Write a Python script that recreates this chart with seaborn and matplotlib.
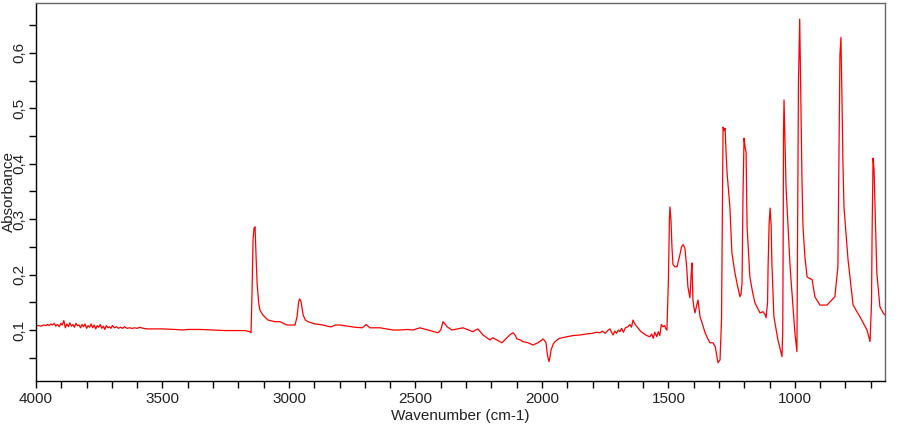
import pandas as pd
import matplotlib
matplotlib.use("Agg")
import matplotlib.pyplot as plt
from matplotlib.ticker import MultipleLocator, FuncFormatter
import seaborn as sns

# IR-spektrum, värden
wavenumber = [
    4000, 3990, 3980, 3970, 3960, 3955, 3948, 3942, 3935, 3928, 3922, 3915, 3908, 3902,
    3896, 3890, 3884, 3878, 3872, 3866, 3860, 3854, 3848, 3842, 3836, 3830, 3824, 3818,
    3812, 3806, 3800, 3794, 3788, 3782, 3776, 3770, 3764, 3758, 3752, 3746, 3740, 3734,
    3728, 3722, 3716, 3710, 3704, 3698, 3690, 3682, 3674, 3666, 3658, 3650, 3640, 3630,
    3620, 3610, 3600, 3590, 3575, 3560, 3500, 3450, 3420, 3400, 3350, 3300, 3250, 3200,
    3174, 3155, 3150, 3146, 3142, 3138, 3134, 3130, 3126, 3120, 3115, 3103, 3083, 3055,
    3035, 3008, 2976, 2968, 2962, 2958, 2952, 2944, 2935, 2925, 2897, 2866, 2840, 2830,
    2818, 2798, 2770, 2740, 2710, 2695, 2680, 2640, 2600, 2589, 2560, 2530, 2510, 2482,
    2450, 2411, 2400, 2391, 2385, 2375, 2356, 2335, 2312, 2290, 2273, 2262, 2253, 2233,
    2205, 2195, 2186, 2170, 2158, 2145, 2138, 2125, 2114, 2105, 2099, 2085, 2075, 2055,
    2035, 2016, 2000, 1996, 1988, 1984, 1980, 1976, 1972, 1968, 1964, 1955, 1948, 1935,
    1921, 1900, 1877, 1850, 1822, 1800, 1785, 1771, 1760, 1750, 1740, 1731, 1725, 1719,
    1712, 1705, 1698, 1692, 1685, 1678, 1670, 1660, 1652, 1646, 1640, 1634, 1628, 1624,
    1616, 1608, 1601, 1590, 1580, 1573, 1566, 1560, 1554, 1546, 1540, 1534, 1528, 1522,
    1515, 1510, 1506, 1500, 1496, 1494, 1490, 1486, 1482, 1474, 1466, 1455, 1448, 1442,
    1435, 1428, 1423, 1415, 1410, 1407, 1403, 1399, 1395, 1388, 1383, 1375, 1365, 1355,
    1345, 1336, 1324, 1315, 1304, 1296, 1290, 1288, 1286, 1284, 1280, 1276, 1272, 1268,
    1262, 1257, 1249, 1237, 1227, 1217, 1213, 1209, 1205, 1201, 1197, 1193, 1189, 1178,
    1168, 1158, 1138, 1126, 1118, 1114, 1108, 1106, 1102, 1098, 1094, 1091, 1083, 1067,
    1051, 1048, 1046, 1045, 1043, 1039, 1035, 1019, 1000, 992, 989, 986, 981, 976,
    972, 968, 960, 952, 942, 932, 921, 901, 873, 842, 830, 825, 822, 818,
    814, 810, 806, 790, 770, 743, 715, 703, 697, 695, 691, 687, 682, 676,
    664, 650, 644,
]
absorbance = [
    0.108, 0.108, 0.107, 0.109, 0.108, 0.110, 0.108, 0.111, 0.109, 0.112, 0.107, 0.110, 0.106, 0.112,
    0.109, 0.117, 0.104, 0.111, 0.106, 0.113, 0.107, 0.110, 0.105, 0.112, 0.108, 0.109, 0.104, 0.110,
    0.106, 0.111, 0.103, 0.108, 0.105, 0.111, 0.104, 0.109, 0.102, 0.108, 0.105, 0.110, 0.103, 0.107,
    0.101, 0.108, 0.104, 0.106, 0.103, 0.108, 0.104, 0.106, 0.103, 0.105, 0.103, 0.106, 0.103, 0.104,
    0.103, 0.104, 0.103, 0.105, 0.103, 0.102, 0.102, 0.101, 0.100, 0.101, 0.101, 0.100, 0.099, 0.099,
    0.099, 0.097, 0.095, 0.167, 0.263, 0.284, 0.286, 0.232, 0.185, 0.150, 0.136, 0.127, 0.118, 0.115,
    0.115, 0.109, 0.109, 0.124, 0.150, 0.156, 0.151, 0.127, 0.118, 0.115, 0.111, 0.109, 0.106, 0.106,
    0.109, 0.109, 0.107, 0.105, 0.104, 0.110, 0.104, 0.104, 0.101, 0.100, 0.100, 0.101, 0.100, 0.104,
    0.100, 0.095, 0.100, 0.115, 0.112, 0.106, 0.100, 0.102, 0.104, 0.100, 0.097, 0.100, 0.102, 0.091,
    0.082, 0.086, 0.084, 0.080, 0.077, 0.083, 0.086, 0.092, 0.095, 0.090, 0.084, 0.082, 0.079, 0.077,
    0.073, 0.077, 0.082, 0.084, 0.080, 0.077, 0.061, 0.050, 0.043, 0.052, 0.064, 0.075, 0.079, 0.084,
    0.086, 0.088, 0.090, 0.091, 0.093, 0.094, 0.096, 0.095, 0.098, 0.094, 0.099, 0.102, 0.096, 0.091,
    0.098, 0.094, 0.100, 0.097, 0.103, 0.096, 0.104, 0.106, 0.110, 0.105, 0.118, 0.112, 0.108, 0.106,
    0.101, 0.097, 0.095, 0.091, 0.089, 0.088, 0.093, 0.085, 0.096, 0.088, 0.097, 0.090, 0.110, 0.106,
    0.108, 0.102, 0.100, 0.190, 0.300, 0.322, 0.300, 0.250, 0.218, 0.214, 0.214, 0.235, 0.250, 0.254,
    0.248, 0.215, 0.178, 0.158, 0.200, 0.221, 0.154, 0.140, 0.131, 0.145, 0.154, 0.124, 0.110, 0.095,
    0.085, 0.077, 0.077, 0.070, 0.041, 0.046, 0.120, 0.239, 0.380, 0.466, 0.460, 0.464, 0.420, 0.383,
    0.350, 0.322, 0.239, 0.203, 0.180, 0.160, 0.165, 0.185, 0.350, 0.446, 0.430, 0.421, 0.286, 0.196,
    0.170, 0.149, 0.131, 0.133, 0.128, 0.122, 0.150, 0.214, 0.290, 0.320, 0.290, 0.221, 0.124, 0.082,
    0.052, 0.100, 0.300, 0.457, 0.515, 0.440, 0.358, 0.214, 0.095, 0.061, 0.300, 0.545, 0.661, 0.500,
    0.371, 0.286, 0.230, 0.196, 0.193, 0.191, 0.160, 0.145, 0.145, 0.160, 0.214, 0.450, 0.596, 0.628,
    0.520, 0.400, 0.322, 0.227, 0.145, 0.124, 0.100, 0.079, 0.150, 0.268, 0.410, 0.389, 0.300, 0.203,
    0.142, 0.130, 0.127,
]

spektrum = pd.DataFrame({"Wavenumber": wavenumber, "Absorbance": absorbance})

sns.set_style("ticks")
plt.rcParams["font.family"] = ["Liberation Sans", "DejaVu Sans"]

fig = plt.figure(figsize=(9, 4.25), dpi=100)
ax = fig.add_axes([0.04, 0.1035, 0.943, 0.8895])

sns.lineplot(data=spektrum, x="Wavenumber", y="Absorbance", sort=False, estimator=None,
             color="red", linewidth=0.9, ax=ax)

ax.set_xlim(4000, 645)
ax.set_ylim(0.008, 0.69)

ax.xaxis.set_major_locator(MultipleLocator(500))
ax.xaxis.set_minor_locator(MultipleLocator(100))
ax.yaxis.set_major_locator(MultipleLocator(0.1))
ax.yaxis.set_minor_locator(MultipleLocator(0.05))
ax.yaxis.set_major_formatter(FuncFormatter(lambda v, p: f"{v:.1f}".replace(".", ",")))

ax.tick_params(axis="both", which="both", direction="out", length=5, width=1, colors="black",
               labelsize=11, labelcolor="#222222")
ax.tick_params(axis="y", pad=2)
ax.tick_params(axis="x", pad=3)
for lbl in ax.get_yticklabels():
    lbl.set_rotation(90)
    lbl.set_va("center")

ax.set_xlabel("Wavenumber (cm-1)", fontsize=11, color="#222222", labelpad=2)
ax.set_ylabel("Absorbance", fontsize=11, color="#222222", labelpad=-3)

for side in ["left", "bottom"]:
    ax.spines[side].set_color("black")
    ax.spines[side].set_linewidth(1.0)
for side in ["top", "right"]:
    ax.spines[side].set_visible(True)
    ax.spines[side].set_color("#666666")
    ax.spines[side].set_linewidth(1.0)

fig.savefig("out.png", dpi=100)
